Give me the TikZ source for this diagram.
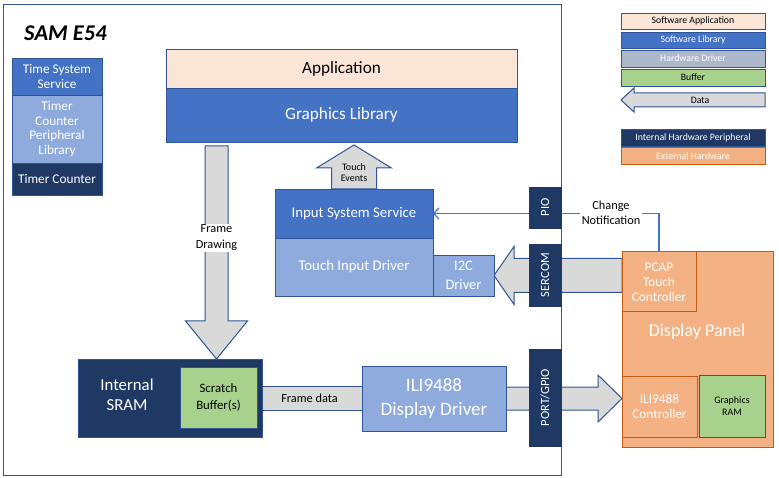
\documentclass[tikz,border=0pt]{standalone}
\usepackage{fontspec}
\setmainfont{Carlito}
\usetikzlibrary{arrows.meta,calc}
\definecolor{peach}{HTML}{FBE5D6}
\definecolor{libblue}{HTML}{4472C4}
\definecolor{drvblue}{HTML}{8FAADC}
\definecolor{hdgrey}{HTML}{ADB9CA}
\definecolor{bufgreen}{HTML}{A9D18E}
\definecolor{navy}{HTML}{203864}
\definecolor{extor}{HTML}{F4B183}
\definecolor{extbdr}{HTML}{C55A11}
\definecolor{bdr}{HTML}{2F5597}
\definecolor{datagrey}{HTML}{D9D9D9}
\pgfdeclarelayer{bg}
\pgfsetlayers{bg,main}
\newcommand\fsz[2]{\fontsize{#1}{#2}\selectfont}
\newcommand\pbox[7]{\node[#6, minimum width={(#4-#2)*1pt}, minimum height={(#5-#3)*1pt}, anchor=north west] (#1) at (#2,#3) {#7};}
\tikzset{
  base/.style={draw=bdr, line width=0.9pt, inner sep=0pt, outer sep=0pt, align=center},
  appbox/.style={base, fill=peach, text=black},
  libbox/.style={base, fill=libblue, text=white},
  drvbox/.style={base, fill=drvblue, text=white},
  bufbox/.style={base, fill=bufgreen, text=black},
  hwbox/.style={base, fill=navy, draw=navy, text=white},
  extbox/.style={base, fill=extor, draw=extbdr, line width=1pt, text=white},
  blk/.style={draw=bdr, line width=1pt, fill=datagrey, line join=miter},
  sigline/.style={draw=libblue, line width=1.2pt},
  txt/.style={inner sep=0pt, align=center},
  legtxt/.style={font=\fsz{9.8}{11}},
  rottxt/.style={txt, rotate=90, text=white, font=\fsz{12.5}{14}},
}
\begin{document}
\begin{tikzpicture}[x=1pt,y=-1pt]
\useasboundingbox (0,0) rectangle (779,478);
% frame
\pbox{frame}{3}{5}{561}{475}{draw=bdr, line width=1pt, inner sep=0pt, outer sep=0pt}{}
\node[txt, anchor=west, font=\fsz{22.5}{26}\bfseries\itshape] (title) at (24,33) {SAM E54};

% left stack
\pbox{tss}{12}{58}{102}{95}{libbox, font=\fsz{13.3}{14.5}}{Time System\\Service}
\pbox{tcpl}{12}{95}{102}{163}{drvbox, font=\fsz{13.3}{14.5}}{Timer\\Counter\\Peripheral\\Library}
\pbox{tc}{12}{163}{102}{195}{hwbox, draw=bdr, font=\fsz{13.3}{14.5}}{Timer Counter}

% application
\pbox{app}{166}{49}{517}{88}{appbox, font=\fsz{17.2}{20}}{Application}
\pbox{gl}{166}{88}{517}{142}{libbox, font=\fsz{17.2}{20}}{Graphics Library}

% input stack
\pbox{iss}{275}{189}{433}{238}{libbox, font=\fsz{14.8}{17}}{Input System Service}
\pbox{tid}{275}{238}{433}{296}{drvbox, font=\fsz{14.8}{17}}{Touch Input Driver}
\pbox{i2c}{433}{255}{494}{296}{drvbox, font=\fsz{14.5}{18.5}}{I2C\\Driver}

% peripherals
\pbox{pio}{529}{187}{561}{228}{hwbox}{}
\pbox{sercom}{529}{244}{561}{306}{hwbox}{}
\pbox{pgpio}{529}{349}{561}{446}{hwbox}{}
\node[rottxt] (piot) at (pio.center) {PIO};
\node[rottxt] (sercomt) at (sercom.center) {SERCOM};
\node[rottxt] (pgpiot) at (pgpio.center) {PORT/GPIO};

% memory and display driver
\pbox{sram}{78}{359}{262}{437}{hwbox, draw=bdr}{}
\node[txt, text=white, font=\fsz{16.8}{20}] (sramt) at (127,395) {Internal\\SRAM};
\pbox{sb}{180}{367}{257}{428}{bufbox, font=\fsz{12.8}{17}}{Scratch\\Buffer(s)}
\pbox{ili}{362}{366}{506}{431}{drvbox, font=\fsz{19}{24}}{ILI9488\\Display Driver}

% display panel
\pbox{dp}{622}{252}{773}{447}{extbox}{}
\node[txt, text=white, font=\fsz{18}{20}] (dpt) at (697,332) {Display Panel};
\pbox{pcap}{622}{252}{696}{312}{extbox, font=\fsz{13.3}{15}}{PCAP\\Touch\\Controller}
\pbox{dpc}{622}{376}{697}{437}{extbox, font=\fsz{13.3}{15}}{ILI9488\\Controller}
\pbox{gram}{699}{375}{765}{437}{bufbox, font=\fsz{10}{12.5}}{Graphics\\RAM}

% legend
\pbox{lsa}{621}{13}{765}{29}{appbox, legtxt}{Software Application}
\pbox{lsl}{621}{32}{765}{48}{libbox, legtxt}{Software Library}
\pbox{lhd}{621}{50}{765}{67}{base, fill=hdgrey, text=white, legtxt}{Hardware Driver}
\pbox{lbf}{621}{69}{765}{86}{bufbox, legtxt}{Buffer}
\draw[blk] (621,100) -- (634,88) -- (634,93) -- (765,93) -- (765,107) -- (634,107) -- (634,112) -- cycle;
\node[txt, legtxt] (ldata) at (700,100) {Data};
\pbox{lihp}{621}{129}{765}{146}{hwbox, draw=bdr, legtxt}{Internal Hardware Peripheral}
\pbox{leh}{621}{148}{765}{165}{extbox, legtxt}{External Hardware}

% block arrows (behind boxes)
\begin{pgfonlayer}{bg}
  % frame drawing
  \coordinate (fdtop) at (216.5,146);
  \coordinate (fdtip) at (fdtop |- sram.north);
  \draw[blk] ($(fdtop)+(-11.5,0)$) -- ($(fdtop)+(11.5,0)$) -- ($(fdtip)+(11.5,-38)$)
    -- ($(fdtip)+(31,-38)$) -- (fdtip) -- ($(fdtip)+(-31,-38)$) -- ($(fdtip)+(-11.5,-38)$) -- cycle;
  % touch events
  \coordinate (tetip) at ($(iss.north |- gl.south)+(0,3)$);
  \draw[blk] (tetip) -- ($(tetip)+(37.5,23)$) -- ($(tetip)+(22.5,23)$) -- ($(iss.north)+(22.5,0)$)
    -- ($(iss.north)+(-22.5,0)$) -- ($(tetip)+(-22.5,23)$) -- ($(tetip)+(-37.5,23)$) -- cycle;
  % frame data
  \draw[blk] ($(sb.east)+(0,-11)$) rectangle ($(ili.west)+(0,12)$);
  % sercom
  \draw[blk] (i2c.east) -- ($(i2c.east)+(20,-29)$) -- ($(i2c.east)+(20,-17)$)
    -- ($(i2c.east -| pcap.west)+(0,-17)$) -- ($(i2c.east -| pcap.west)+(0,17)$)
    -- ($(i2c.east)+(20,17)$) -- ($(i2c.east)+(20,29)$) -- cycle;
  % port/gpio
  \coordinate (pgtip) at (ili.east -| dpc.west);
  \draw[blk] ($(ili.east)+(0,-11.5)$) -- ($(pgtip)+(-24,-11.5)$) -- ($(pgtip)+(-24,-23.5)$)
    -- (pgtip) -- ($(pgtip)+(-24,23.5)$) -- ($(pgtip)+(-24,11.5)$) -- ($(ili.east)+(0,11.5)$) -- cycle;
\end{pgfonlayer}

% labels on arrows
\node[txt, fill=white, inner sep=1pt, font=\fsz{12.3}{16}] (fdl) at (216.5,238) {Frame\\Drawing};
\node[txt, font=\fsz{10}{11.5}] (tel) at (354,172.5) {Touch\\Events};
\node[txt, font=\fsz{12.3}{13}] (fdata) at ($(sb.east)!0.5!(ili.west)$) {Frame data};

% PIO signal
\draw[sigline, -{Straight Barb[length=5pt,width=11pt]}] (pio.west |- iss.east) -- (iss.east);
\draw[sigline] (pio.east |- iss.east) -- (iss.east -| pcap.north) -- (pcap.north);
\node[txt, fill=white, inner sep=2pt, font=\fsz{12.3}{15}] (cn) at (611,212.5) {Change\\Notification};
\end{tikzpicture}
\end{document}
